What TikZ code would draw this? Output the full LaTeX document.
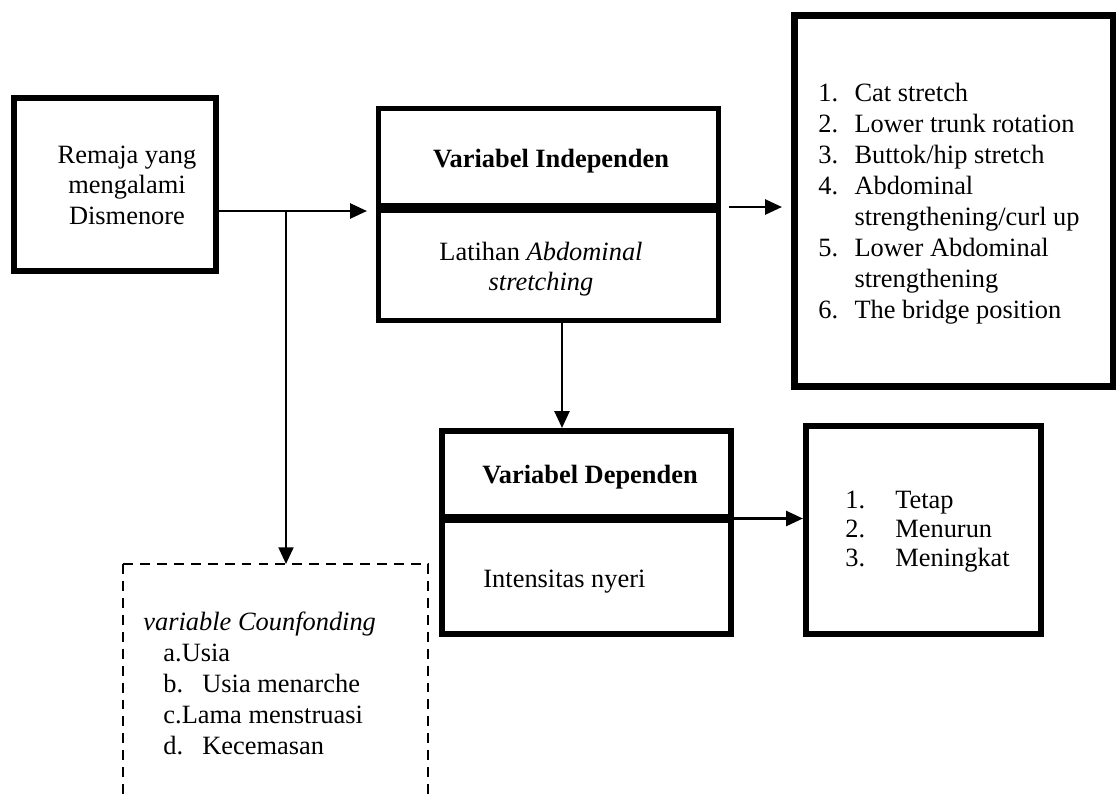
\documentclass[tikz,border=0pt]{standalone}
\usepackage{fontspec}
\setmainfont{Liberation Serif}
\usetikzlibrary{arrows.meta,fit}
\begin{document}
\begin{tikzpicture}[x=0.4545pt,y=-0.4545pt,
  box/.style={draw, line width=2.8pt, inner sep=0pt},
  divider/.style={line width=4.2pt},
  conn/.style={line width=1pt, -{Triangle[length=7.6pt,width=6.8pt]}},
  dashline/.style={line width=1.1pt, dash pattern=on 4.5pt off 3.2pt},
  txt/.style={inner sep=0pt, font=\fontsize{12}{14}\selectfont},
]
\useasboundingbox (0,0) rectangle (1117,799);

% helper coordinates
\coordinate (y207) at (0,207);
\coordinate (y208) at (0,208);
\coordinate (y211) at (0,211);
\coordinate (y518) at (0,518.5);
\coordinate (x562) at (562,0);

% Remaja box
\node[box, fit={(14,98) (216,271)}] (rem) {};
\node[txt, anchor=base, font=\fontsize{12}{13.9}\selectfont] (remt) at (127,163)
  {\begin{tabular}[t]{@{}c@{}}Remaja yang\\mengalami\\Dismenore\end{tabular}};

% Independen box
\node[box, line width=2.3pt, fit={(378.5,108.5) (718.5,320.5)}] (ind) {};
\draw[divider] (ind.west |- y208) -- (ind.east |- y208);
\node[txt, anchor=base] (indh) at (551,167) {\textbf{Variabel Independen}};
\node[txt, anchor=base, font=\fontsize{12}{13.7}\selectfont] (indb) at (541,260)
  {\begin{tabular}[t]{@{}c@{}}Latihan \textit{Abdominal}\\\textit{stretching}\end{tabular}};

% List 1 box
\node[box, fit={(794.5,15.5) (1113,386.5)}] (l1) {};
\node[txt, anchor=base west, font=\fontsize{12}{14.1}\selectfont] (l1t) at (818,101)
  {\begin{tabular}[t]{@{}p{16.4pt}@{}l@{}}
  1. & Cat stretch\\
  2. & Lower trunk rotation\\
  3. & Buttok/hip stretch\\
  4. & Abdominal\\
     & strengthening/curl up\\
  5. & Lower Abdominal\\
     & strengthening\\
  6. & The bridge position
  \end{tabular}};

% Dependen box
\node[box, fit={(442,431) (731,634)}] (dep) {};
\draw[divider] (dep.west |- y518) -- (dep.east |- y518);
\node[txt, anchor=base] (deph) at (590,483) {\textbf{Variabel Dependen}};
\node[txt, anchor=base west] (depb) at (483,587) {Intensitas nyeri};

% List 2 box
\node[box, fit={(806,426) (1041,634)}] (l2) {};
\node[txt, anchor=base west, font=\fontsize{12}{13.4}\selectfont] (l2t) at (845,508)
  {\begin{tabular}[t]{@{}p{22.7pt}@{}l@{}}1.&Tetap\\2.&Menurun\\3.&Meningkat\end{tabular}};

% Confounding dashed box (open at bottom)
\coordinate (cbl) at (123,799);
\coordinate (ctl) at (123,564);
\coordinate (ctr) at (428,564);
\coordinate (cbr) at (428,799);
\coordinate (ctop) at (286,564);
\draw[dashline] (ctl) -- (cbl);
\draw[dashline] (ctl) -- (ctr) -- (cbr);
\node[txt, anchor=base west, font=\fontsize{12}{14.1}\selectfont] (conft) at (143,630)
  {\begin{tabular}[t]{@{}l@{}}
  \textit{variable Counfonding}\\
  \hspace*{9.1pt}a.Usia\\
  \hspace*{9.1pt}\makebox[17.7pt][l]{b.}Usia menarche\\
  \hspace*{9.1pt}c.Lama menstruasi\\
  \hspace*{9.1pt}\makebox[17.7pt][l]{d.}Kecemasan
  \end{tabular}};

% connectors
\coordinate (j) at (286,211);
\draw[conn, shorten >=4.1pt] (rem.east |- y211) -- (ind.west |- y211);
\draw[conn] (j) -- (ctop);
\draw[conn, shorten <=3.6pt, shorten >=4.3pt] (ind.east |- y207) -- (l1.west |- y207);
\draw[conn] (ind.south -| x562) -- (dep.north -| x562);
\draw[conn] (dep.east |- y518) -- (l2.west |- y518);
\end{tikzpicture}
\end{document}
